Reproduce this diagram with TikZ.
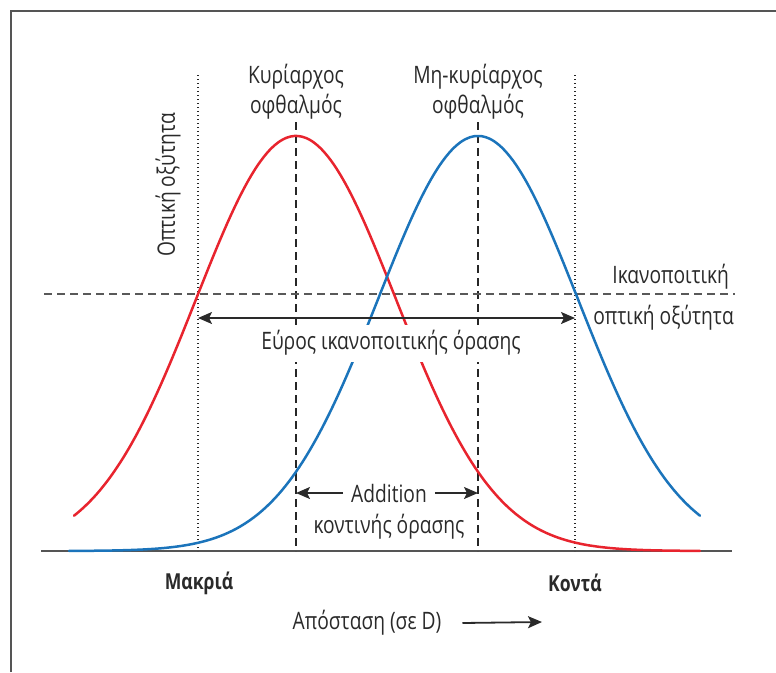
\documentclass[tikz,border=0pt]{standalone}
\usepackage{fontspec}
\setmainfont{Open Sans}[FakeStretch=0.8]
\usetikzlibrary{arrows.meta}
\definecolor{redc}{HTML}{E8242E}
\definecolor{bluec}{HTML}{1B74BB}
\definecolor{framec}{HTML}{555555}
\definecolor{txtc}{HTML}{2A2A2A}
\begin{document}
\begin{tikzpicture}[x=1pt,y=-1pt,
  lbl/.style={font=\fontsize{24}{30}\selectfont, text=txtc, align=center, inner sep=0pt},
  boldlbl/.style={lbl, font=\fontsize{22}{30}\selectfont\bfseries},
  curve/.style={line width=2.5pt, line cap=round},
  dottedline/.style={dash pattern=on 1.3pt off 2.7pt, line width=1.3pt, black!85},
  dashedline/.style={dash pattern=on 8pt off 5pt, line width=1.4pt, black!85},
  thresh/.style={dash pattern=on 8pt off 5pt, line width=2.3pt, black!65},
  tip/.style={},
  arr/.style={line width=1.8pt, txtc, -{Stealth[length=14pt,width=12pt,inset=3pt]}},
  darr/.style={line width=1.8pt, txtc, {Stealth[length=14pt,width=12pt,inset=3pt]}-{Stealth[length=14pt,width=12pt,inset=3pt]}}
]
\useasboundingbox (0,0) rectangle (776,672);
\draw[framec, line width=2pt] (11,672) -- (11,11) -- (776,11);

% coordinates
\coordinate (d1t) at (198,75);
\coordinate (d1b) at (198,551);
\coordinate (d2t) at (575,75);
\coordinate (d2b) at (575,551);
\coordinate (v1t) at (296,122);
\coordinate (v1b) at (296,551);
\coordinate (v2t) at (478,122);
\coordinate (v2b) at (478,551);
\coordinate (hl) at (44,294);
\coordinate (hr) at (735,294);
\coordinate (axl) at (41,551);
\coordinate (axr) at (732,551);

% axis and guide lines
\draw[framec, line width=2pt] (axl) -- (axr);
\draw[dottedline] (d1t) -- (d1b);
\draw[dottedline] (d2t) -- (d2b);
\draw[dashedline] (v1t) -- (v1b);
\draw[dashedline] (v2t) -- (v2b);
\draw[thresh] (hl) -- (hr);

% curves
\draw[curve, redc] plot[domain=74:700, samples=160, smooth] (\x, {551-415*exp(-((\x-296)/100)^2/2)});
\draw[curve, bluec] plot[domain=69:700, samples=160, smooth] (\x, {551-415*exp(-((\x-478)/100)^2/2)});

% labels
\node[lbl] (dom) at (296,92) {Κυρίαρχος\\οφθαλμός};
\node[lbl] (nondom) at (478,92) {Μη-κυρίαρχος\\οφθαλμός};
\node[lbl, rotate=90] (ylab) at (168,185) {Οπτική οξύτητα};
\node[lbl, anchor=east] (sat1) at (729,277) {Ικανοποιτική};
\node[lbl, anchor=east] (sat2) at (734,318) {οπτική οξύτητα};

\node[lbl, fill=white, minimum height=37pt, inner xsep=3pt] (range) at (391,343) {Εύρος ικανοποιτικής όρασης};
\coordinate (r1) at (198,318);
\coordinate (r2) at (575,318);
\draw[darr] (r1) -- (r2);

\node[lbl] (add) at (389,493) {Addition};
\node[lbl] (nearadd) at (389,527) {κοντινής όρασης};
\coordinate (a1) at (296,493);
\coordinate (a2) at (478,493);
\draw[arr] ([xshift=-8pt]add.west) -- (a1);
\draw[arr] ([xshift=8pt]add.east) -- (a2);

\node[boldlbl] (far) at (199,583) {Μακριά};
\node[boldlbl] (near) at (575,583) {Κοντά};
\node[lbl] (dist) at (367,623) {Απόσταση (σε D)};
\coordinate (distend) at (542,622);
\draw[arr] ([xshift=21pt]dist.east) -- (distend);
\end{tikzpicture}
\end{document}
